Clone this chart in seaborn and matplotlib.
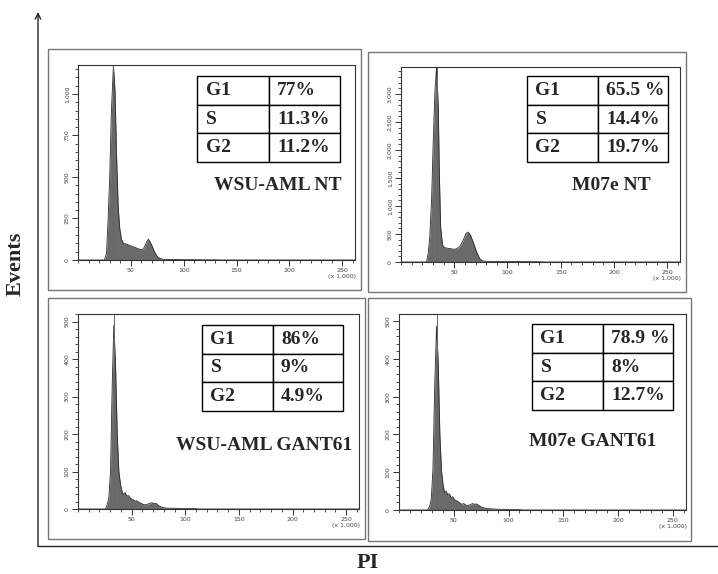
"""
Cell cycle PI histograms, 2x2 panel figure
Output: out.png
"""

import matplotlib
matplotlib.use("Agg")
import matplotlib.pyplot as plt
from matplotlib.patches import Rectangle
from matplotlib.ticker import MultipleLocator, FuncFormatter
import seaborn as sns

sns.set_style("white")

# Panel titles and cell cycle percentages
panel_names = ["WSU-AML NT", "M07e NT", "WSU-AML GANT61", "M07e GANT61"]
phases = ["G1", "S", "G2"]
pct_wsu_nt = ["77%", "11.3%", "11.2%"]
pct_m07_nt = ["65.5 %", "14.4%", "19.7%"]
pct_wsu_gant = ["86%", "9%", "4.9%"]
pct_m07_gant = ["78.9 %", "8%", "12.7%"]

# Histograms: PI (x 1,000) vs events
pi_wsu_nt = [0, 25, 27, 28.5, 30, 31.5, 33.5, 35, 36.5, 38, 39.5, 41, 43, 46, 50, 54, 58, 61,
             63, 65, 66.5, 68, 70, 72, 74, 76, 78, 81, 90, 100, 110, 120, 130, 135, 262]
ev_wsu_nt = [0, 0, 40, 250, 500, 880, 1174, 1020, 620, 320, 190, 125, 100, 95, 85, 75, 65, 62,
             80, 110, 125, 112, 85, 55, 30, 15, 8, 4, 3, 2, 2, 1, 1, 0, 0]

pi_m07_nt = [0, 24, 25.5, 27, 28.7, 30.3, 31.9, 33.4, 35, 36, 37.2, 39, 41, 46, 50.6, 55, 58.4,
             61, 63, 65.3, 67.8, 71, 74, 76.6, 80, 90, 100, 110, 120, 130, 135, 262]
ev_m07_nt = [0, 0, 150, 450, 1100, 2170, 3060, 3480, 2770, 1580, 625, 300, 255, 238, 226, 268, 387,
             506, 535, 476, 357, 178, 60, 18, 12, 10, 12, 8, 6, 5, 0, 0]

pi_wsu_gant = [0, 25.5, 27, 28.7, 30.3, 31.9, 33.4, 35, 36.6, 38.1, 39.7, 41.2, 42.5, 44, 45.5, 47,
               49, 51, 53, 55, 57, 59, 61, 63, 65, 67, 69, 71, 73, 75, 77, 80, 85, 90, 95, 100,
               105, 110, 112, 262]
ev_wsu_gant = [0, 0, 10, 28, 100, 330, 490, 385, 197, 100, 64, 46, 38, 44, 34, 36,
               28, 26, 21, 22, 17, 15, 12, 11, 13, 15, 17, 14, 15, 9, 6, 3, 2, 2, 1, 1,
               1, 1, 0, 0]

pi_m07_gant = [0, 26, 28, 29.5, 31, 32.7, 34.3, 35.8, 37.3, 38.8, 40.3, 41.7, 43, 44.5, 46, 47.5,
               49, 51, 53, 55, 57, 59, 61, 63, 65, 67, 69, 71, 73, 75, 77, 80, 85, 90, 95, 100,
               105, 110, 112, 262]
ev_m07_gant = [0, 0, 10, 30, 110, 340, 487, 390, 200, 103, 65, 45, 50, 40, 43, 33,
               35, 26, 24, 20, 15, 17, 13, 12, 14, 17, 15, 16, 12, 8, 6, 4, 3, 2, 2, 1,
               1, 1, 0, 0]

y_max = [1174, 3480, 520, 519]
y_major = [250, 500, 100, 100]
y_minor = [50, 100, 20, 20]

W, H = 718, 574


def frac(l, t, r, b):
    # pixel box -> figure fraction [left, bottom, width, height]
    return [l / W, 1 - b / H, (r - l) / W, (b - t) / H]


axes_px = [(78, 65, 355, 260), (401, 67, 680, 262), (78, 314, 359, 509), (399, 314, 686, 510)]
boxes_px = [(48, 49, 361, 290), (368, 52, 686, 292), (48, 298, 365, 539), (368, 298, 691, 541)]
tables_px = [(197, 76, 340, 162), (527, 76, 668, 162), (202, 325, 343, 411), (532, 324, 673, 410)]
labels_px = [(278, 185), (611, 185), (264, 445), (593, 442)]

hists = [(pi_wsu_nt, ev_wsu_nt), (pi_m07_nt, ev_m07_nt),
         (pi_wsu_gant, ev_wsu_gant), (pi_m07_gant, ev_m07_gant)]
pcts = [pct_wsu_nt, pct_m07_nt, pct_wsu_gant, pct_m07_gant]

fig = plt.figure(figsize=(7.18, 5.74), dpi=100)

# overlay in pixel coordinates for frames, arrows, tables and labels
over = fig.add_axes([0, 0, 1, 1], zorder=5)
over.set_xlim(0, W)
over.set_ylim(H, 0)
over.axis("off")
over.patch.set_alpha(0)

tick_font = dict(fontsize=4.5, color="#444444")
serif_bold = dict(family="Liberation Serif", weight="bold")

for k in range(4):
    ax = fig.add_axes(frac(*axes_px[k]))
    x, y = hists[k]
    ax.fill_between(x, y, color="#6a6a6a", lw=0)
    sns.lineplot(x=x, y=y, ax=ax, color="#2a2a2a", lw=0.6)
    peak_x = x[y.index(max(y))]
    ax.axvline(peak_x, color="#666666", lw=0.7)

    ax.set_xlim(0, 262)
    ax.set_ylim(0, y_max[k])
    ax.set_xticks([50, 100, 150, 200, 250])
    ax.set_xticklabels(["50", "100", "150", "200", "250\n(x 1,000)"], **tick_font)
    ax.xaxis.set_minor_locator(MultipleLocator(10))
    ax.yaxis.set_major_locator(MultipleLocator(y_major[k]))
    ax.yaxis.set_minor_locator(MultipleLocator(y_minor[k]))
    ax.yaxis.set_major_formatter(FuncFormatter(lambda v, p: f"{int(v):,}"))
    for lab in ax.get_yticklabels():
        lab.set_rotation(90)
        lab.set_va("center")
        lab.set_fontsize(4.5)
        lab.set_color("#444444")
    ax.tick_params(which="major", direction="out", length=4, width=0.7, color="#333333", pad=2,
                   bottom=True, left=True)
    ax.tick_params(which="minor", direction="out", length=2.5, width=0.6, color="#333333",
                   bottom=True, left=True)
    ax.set_xlabel("")
    ax.set_ylabel("")
    for s in ax.spines.values():
        s.set_color("#333333")
        s.set_linewidth(0.8)

    # panel frame
    l, t, r, b = boxes_px[k]
    over.add_patch(Rectangle((l, t), r - l, b - t, fill=False, ec="#777777", lw=1.0))

    # percentage table
    l, t, r, b = tables_px[k]
    tb = over.table(cellText=[[p, v] for p, v in zip(phases, pcts[k])], cellLoc="left",
                    bbox=[l / W, 1 - b / H, (r - l) / W, (b - t) / H])
    tb.auto_set_font_size(False)
    for cell in tb.get_celld().values():
        cell.PAD = 0.12
        cell.set_linewidth(1.0)
        cell.set_edgecolor("black")
        cell.set_facecolor("white")
        cell.get_text().set_fontproperties(dict(serif_bold, size=14))

    cx, cy = labels_px[k]
    over.text(cx, cy, panel_names[k], ha="center", va="center", fontsize=14, **serif_bold)

# outer "Events" / "PI" axes
over.annotate("", xy=(38, 12), xytext=(38, 546.5),
              arrowprops=dict(arrowstyle="->", lw=1.0, color="#222222", shrinkA=0, shrinkB=0))
over.plot([38, 718], [546, 546], color="#222222", lw=1.0)
over.text(16, 264, "Events", rotation=90, ha="center", va="center", fontsize=16, **serif_bold)
over.text(368, 563, "PI", ha="center", va="center", fontsize=16, **serif_bold)

plt.savefig("out.png", dpi=100, facecolor="white")
